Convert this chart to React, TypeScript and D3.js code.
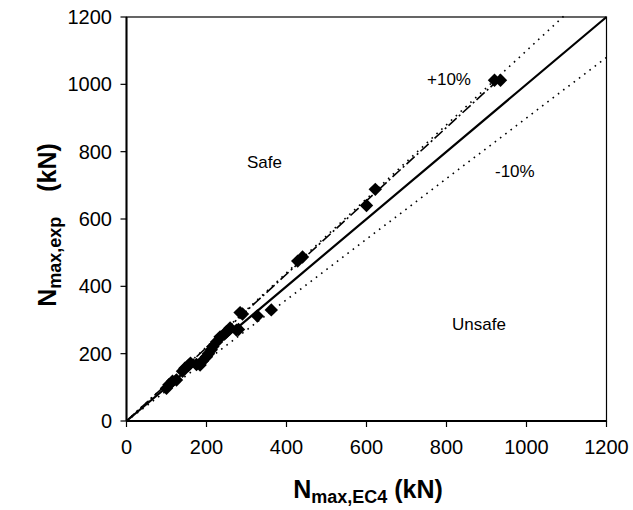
import React from "react";
import * as d3 from "d3";

const nEC4 = [100, 106, 115, 125, 140, 146, 155, 160, 175, 184, 190, 200, 205, 212, 216, 225, 234, 245, 250, 259, 275, 280, 284, 290, 327, 362, 428, 440, 600, 622, 920, 935];
const nExp = [97, 108, 118, 122, 148, 157, 165, 172, 168, 166, 178, 191, 200, 212, 221, 235, 250, 258, 265, 276, 270, 272, 322, 318, 312, 330, 475, 487, 640, 688, 1012, 1012];
const ticks = [0, 200, 400, 600, 800, 1000, 1200];
const equalLine = [0, 1200];
const plusLine = [0, 1100];
const minusLine = [0, 1200];
const fitLine = [0, 935];
const plusFactor = 1.1;
const minusFactor = 0.9;
const fitSlope = 1.09;

const W = 633, H = 510;
const L = 126.5, T = 17, PW = 480, PH = 404;

export default function App() {
  const x = d3.scaleLinear().domain([0, 1200]).range([L, L + PW]);
  const y = d3.scaleLinear().domain([0, 1200]).range([T + PH, T]);
  const line = d3.line<[number, number]>().x(d => x(d[0])).y(d => y(d[1]));
  const diamond = d3.symbol().type(d3.symbolSquare).size(90)();
  const font = "Arial, 'Liberation Sans', sans-serif";
  return (
    <svg width={W} height={H} style={{ position: "absolute", left: 0, top: 0, background: "#fff" }} fontFamily={font}>
      <rect x={L} y={T} width={PW} height={PH} fill="none" stroke="#000" strokeWidth={1.2} />
      <path d={line(equalLine.map(v => [v, v]) as [number, number][]) || ""} stroke="#000" strokeWidth={2.2} fill="none" />
      <path d={line(plusLine.map(v => [v, v * plusFactor]) as [number, number][]) || ""} stroke="#000" strokeWidth={1.6} strokeDasharray="1.6,5" fill="none" />
      <path d={line(minusLine.map(v => [v, v * minusFactor]) as [number, number][]) || ""} stroke="#000" strokeWidth={1.6} strokeDasharray="1.6,5" fill="none" />
      <path d={line(fitLine.map(v => [v, v * fitSlope]) as [number, number][]) || ""} stroke="#000" strokeWidth={1.6} strokeDasharray="11,3,2,3" fill="none" />
      {nEC4.map((v, i) => (
        <path key={i} d={diamond || ""} transform={`translate(${x(v)},${y(nExp[i])}) rotate(45)`} fill="#000" />
      ))}
      <line x1={L} x2={L + PW} y1={T + PH} y2={T + PH} stroke="#000" strokeWidth={2} />
      <line x1={L} x2={L} y1={T} y2={T + PH} stroke="#000" strokeWidth={2} />
      {ticks.map(t => (
        <g key={"x" + t}>
          <line x1={x(t)} x2={x(t)} y1={T + PH} y2={T + PH + 6} stroke="#000" strokeWidth={1.2} />
          <text x={x(t)} y={454} textAnchor="middle" fontSize={20}>{t}</text>
        </g>
      ))}
      {ticks.map(t => (
        <g key={"y" + t}>
          <line x1={L - 6} x2={L} y1={y(t)} y2={y(t)} stroke="#000" strokeWidth={1.2} />
          <text x={112} y={y(t) + 7} textAnchor="end" fontSize={20}>{t}</text>
        </g>
      ))}
      <text x={427} y={85} fontSize={17}>+10%</text>
      <text x={495} y={177} fontSize={17}>-10%</text>
      <text x={247} y={168} fontSize={17}>Safe</text>
      <text x={452} y={330} fontSize={17}>Unsafe</text>
      <text x={368} y={498} textAnchor="middle" fontWeight="bold" fontSize={25}>
        N<tspan fontSize={18} dy={5}>max,EC4</tspan><tspan dy={-5}> (kN)</tspan>
      </text>
      <text transform={`translate(56,225) rotate(-90)`} textAnchor="middle" fontWeight="bold" fontSize={25} style={{ whiteSpace: "pre" }}>
        N<tspan fontSize={18} dy={5}>max,exp</tspan><tspan dy={-5} dx={18}>{" (kN)"}</tspan>
      </text>
    </svg>
  );
}
